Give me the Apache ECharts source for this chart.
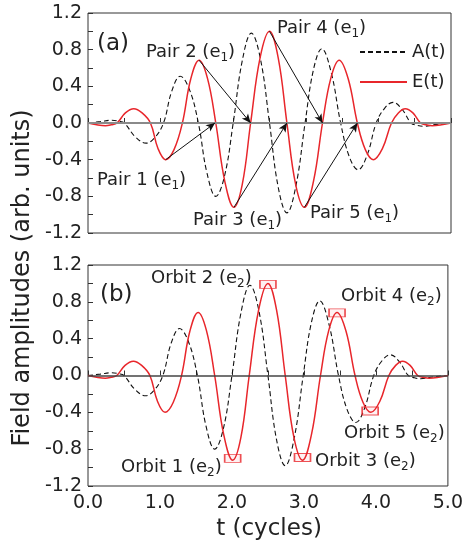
<!DOCTYPE html>
<html>
<head>
<meta charset="utf-8">
<style>
  html, body { margin: 0; padding: 0; background: #fff; }
  #main { width: 466px; height: 548px; }
</style>
<script src="https://cdn.jsdelivr.net/npm/echarts@6/dist/echarts.min.js"></script>
</head>
<body>
<div id="main"></div>
<script>
  // values: [t (cycles), amplitude]
  var aData = [
    [0, 0], [0.17, 0.015], [0.33, 0.03], [0.42, 0.02], [0.50, 0],
    [0.65, -0.15], [0.80, -0.22], [0.92, -0.16], [1.04, 0],
    [1.155, 0.35], [1.27, 0.51], [1.395, 0.37], [1.52, 0],
    [1.64, -0.55], [1.76, -0.80], [1.88, -0.58], [2.00, 0],
    [2.125, 0.68], [2.25, 0.98], [2.375, 0.70], [2.50, 0],
    [2.62, -0.70], [2.74, -0.98], [2.865, -0.68], [2.99, 0],
    [3.105, 0.58], [3.22, 0.81], [3.35, 0.55], [3.48, 0],
    [3.60, -0.37], [3.72, -0.51], [3.845, -0.35], [3.97, 0],
    [4.085, 0.16], [4.20, 0.225], [4.325, 0.15], [4.45, 0],
    [4.535, -0.025], [4.62, -0.035], [4.80, -0.015], [5, 0]
  ];
  var eData = [
    [0, 0], [0.12, -0.02], [0.24, -0.03], [0.32, -0.02], [0.40, 0],
    [0.515, 0.11], [0.63, 0.155], [0.745, 0.11], [0.86, 0],
    [0.965, -0.28], [1.07, -0.40], [1.185, -0.29], [1.30, 0],
    [1.415, 0.48], [1.53, 0.685], [1.645, 0.49], [1.76, 0],
    [1.885, -0.64], [2.01, -0.92], [2.125, -0.67], [2.24, 0],
    [2.37, 0.71], [2.50, 1.00], [2.62, 0.71], [2.74, 0],
    [2.86, -0.67], [2.98, -0.92], [3.105, -0.64], [3.23, 0],
    [3.345, 0.49], [3.46, 0.685], [3.585, 0.48], [3.71, 0],
    [3.82, -0.29], [3.93, -0.40], [4.055, -0.28], [4.18, 0],
    [4.275, 0.11], [4.37, 0.155], [4.475, 0.11], [4.58, 0],
    [4.66, -0.02], [4.74, -0.03], [4.87, -0.02], [5, 0]
  ];
  // pair arrows (a): from an E(t) extremum to a later zero crossing
  var pairFrom = [[1.07, -0.40], [1.53, 0.685], [2.01, -0.92], [2.50, 1.00], [2.98, -0.92]];
  var pairTo = [[1.75, 0], [2.24, 0], [2.74, 0], [3.23, 0], [3.71, 0]];
  // orbit markers (b)
  var orbitPts = [[2.01, -0.90], [2.50, 0.99], [2.98, -0.89], [3.46, 0.68], [3.92, -0.385]];

  var xTicks = { min: 0, max: 5, interval: 1 };
  var yTicks = { min: -1.2, max: 1.2, interval: 0.4 };

  var FONT = 'DejaVu Sans';
  var RED = '#e8262b';
  var INK = '#222';

  var chart = echarts.init(document.getElementById('main'));

  function xAxis(idx, labels) {
    return {
      type: 'value', gridIndex: idx,
      min: xTicks.min, max: xTicks.max, interval: xTicks.interval,
      axisLine: { show: false },
      axisTick: { inside: true, length: 5, lineStyle: { color: '#333' } },
      minorTick: { show: true, splitNumber: 2, length: 5, lineStyle: { color: '#333' } },
      splitLine: { show: false },
      axisLabel: {
        show: labels, color: INK, fontFamily: FONT, fontSize: 19, margin: 8,
        formatter: function (v) { return v.toFixed(1); }
      }
    };
  }
  function yAxis(idx) {
    return {
      type: 'value', gridIndex: idx,
      min: yTicks.min, max: yTicks.max, interval: yTicks.interval,
      axisLine: { show: false },
      axisTick: { inside: true, length: 5, lineStyle: { color: '#333' } },
      minorTick: { show: true, splitNumber: 2, length: 5, lineStyle: { color: '#333' } },
      splitLine: { show: false },
      axisLabel: {
        color: INK, fontFamily: FONT, fontSize: 19, margin: 6,
        formatter: function (v) { return v.toFixed(1); }
      }
    };
  }

  function sub(label, s) {
    return '{n|' + label + ' (e}{s|' + s + '}{n|)}';
  }
  var rich = {
    n: { fontFamily: FONT, fontSize: 18, fill: INK, color: INK, lineHeight: 24 },
    s: { fontFamily: FONT, fontSize: 12, fill: INK, color: INK, verticalAlign: 'bottom', lineHeight: 24 }
  };
  function label(text, x, y) {
    return {
      type: 'text', x: x, y: y, z: 100,
      style: { text: text, rich: rich, verticalAlign: 'middle', fill: INK }
    };
  }

  var arrows = pairFrom.map(function (p, i) {
    return [{ coord: p }, { coord: pairTo[i] }];
  });

  var dashStyle = { color: '#111', width: 1.1, type: [5, 3] };
  var redStyle = { color: RED, width: 1.5 };

  chart.setOption({
    animation: false,
    grid: [
      { left: 88, top: 13, width: 363, height: 220, show: true, borderColor: '#333', borderWidth: 1 },
      { left: 88, top: 265, width: 363, height: 221, show: true, borderColor: '#333', borderWidth: 1 }
    ],
    xAxis: [xAxis(0, false), xAxis(1, true)],
    yAxis: [yAxis(0), yAxis(1)],
    legend: {
      orient: 'vertical', left: 354, top: 38, itemWidth: 47, itemHeight: 14, itemGap: 12,
      data: ['A(t)', 'E(t)'],
      itemStyle: { opacity: 0 },
      textStyle: { fontFamily: FONT, fontSize: 18, color: INK }
    },
    series: [
      {
        name: 'A(t)', type: 'line', xAxisIndex: 0, yAxisIndex: 0, data: aData,
        smooth: 0.4, symbol: 'none', z: 2,
        lineStyle: dashStyle, itemStyle: { color: '#111' },
        markLine: {
          silent: true, symbol: 'none', label: { show: false },
          lineStyle: { color: '#8a8a8a', width: 2, type: 'solid' },
          data: [{ yAxis: 0 }]
        }
      },
      {
        name: 'E(t)', type: 'line', xAxisIndex: 0, yAxisIndex: 0, data: eData,
        smooth: 0.4, symbol: 'none', z: 3,
        lineStyle: redStyle, itemStyle: { color: RED },
        markLine: {
          silent: true, symbol: ['none', 'arrow'], symbolSize: [6, 9], label: { show: false },
          lineStyle: { color: '#111', width: 1, type: 'solid' },
          data: arrows
        }
      },
      {
        name: 'A(t)', type: 'line', xAxisIndex: 1, yAxisIndex: 1, data: aData,
        smooth: 0.4, symbol: 'none', z: 2,
        lineStyle: dashStyle, itemStyle: { color: '#111' },
        markLine: {
          silent: true, symbol: 'none', label: { show: false },
          lineStyle: { color: '#444', width: 1.5, type: 'solid' },
          data: [{ yAxis: 0 }]
        }
      },
      {
        name: 'E(t)', type: 'line', xAxisIndex: 1, yAxisIndex: 1, data: eData,
        smooth: 0.4, symbol: 'none', z: 3,
        lineStyle: redStyle, itemStyle: { color: RED }
      },
      {
        name: 'orbits', type: 'scatter', xAxisIndex: 1, yAxisIndex: 1, data: orbitPts,
        symbol: 'rect', symbolSize: [16, 8], z: 4,
        itemStyle: { color: 'rgba(232,38,43,0.08)', borderColor: RED, borderWidth: 1.2 }
      }
    ],
    graphic: [
      { type: 'text', x: 97, y: 44, style: { text: '(a)', font: '23px "DejaVu Sans"', fill: INK, verticalAlign: 'middle' } },
      { type: 'text', x: 100, y: 295, style: { text: '(b)', font: '23px "DejaVu Sans"', fill: INK, verticalAlign: 'middle' } },
      label(sub('Pair 1', 1), 97, 180),
      label(sub('Pair 2', 1), 146, 52),
      label(sub('Pair 3', 1), 193, 220),
      label(sub('Pair 4', 1), 277, 28),
      label(sub('Pair 5', 1), 310, 213),
      label(sub('Orbit 1', 2), 121, 467),
      label(sub('Orbit 2', 2), 151, 278),
      label(sub('Orbit 3', 2), 315, 461),
      label(sub('Orbit 4', 2), 341, 296),
      label(sub('Orbit 5', 2), 344, 433),
      {
        type: 'text', x: 23, y: 278, rotation: Math.PI / 2,
        style: { text: 'Field amplitudes (arb. units)', font: '24px "DejaVu Sans"', fill: INK, align: 'center', verticalAlign: 'middle' }
      },
      {
        type: 'text', x: 269, y: 529,
        style: { text: 't (cycles)', font: '23px "DejaVu Sans"', fill: INK, align: 'center', verticalAlign: 'middle' }
      }
    ]
  });

  window.addEventListener('resize', function () {
    chart.resize();
  });
</script>
</body>
</html>
